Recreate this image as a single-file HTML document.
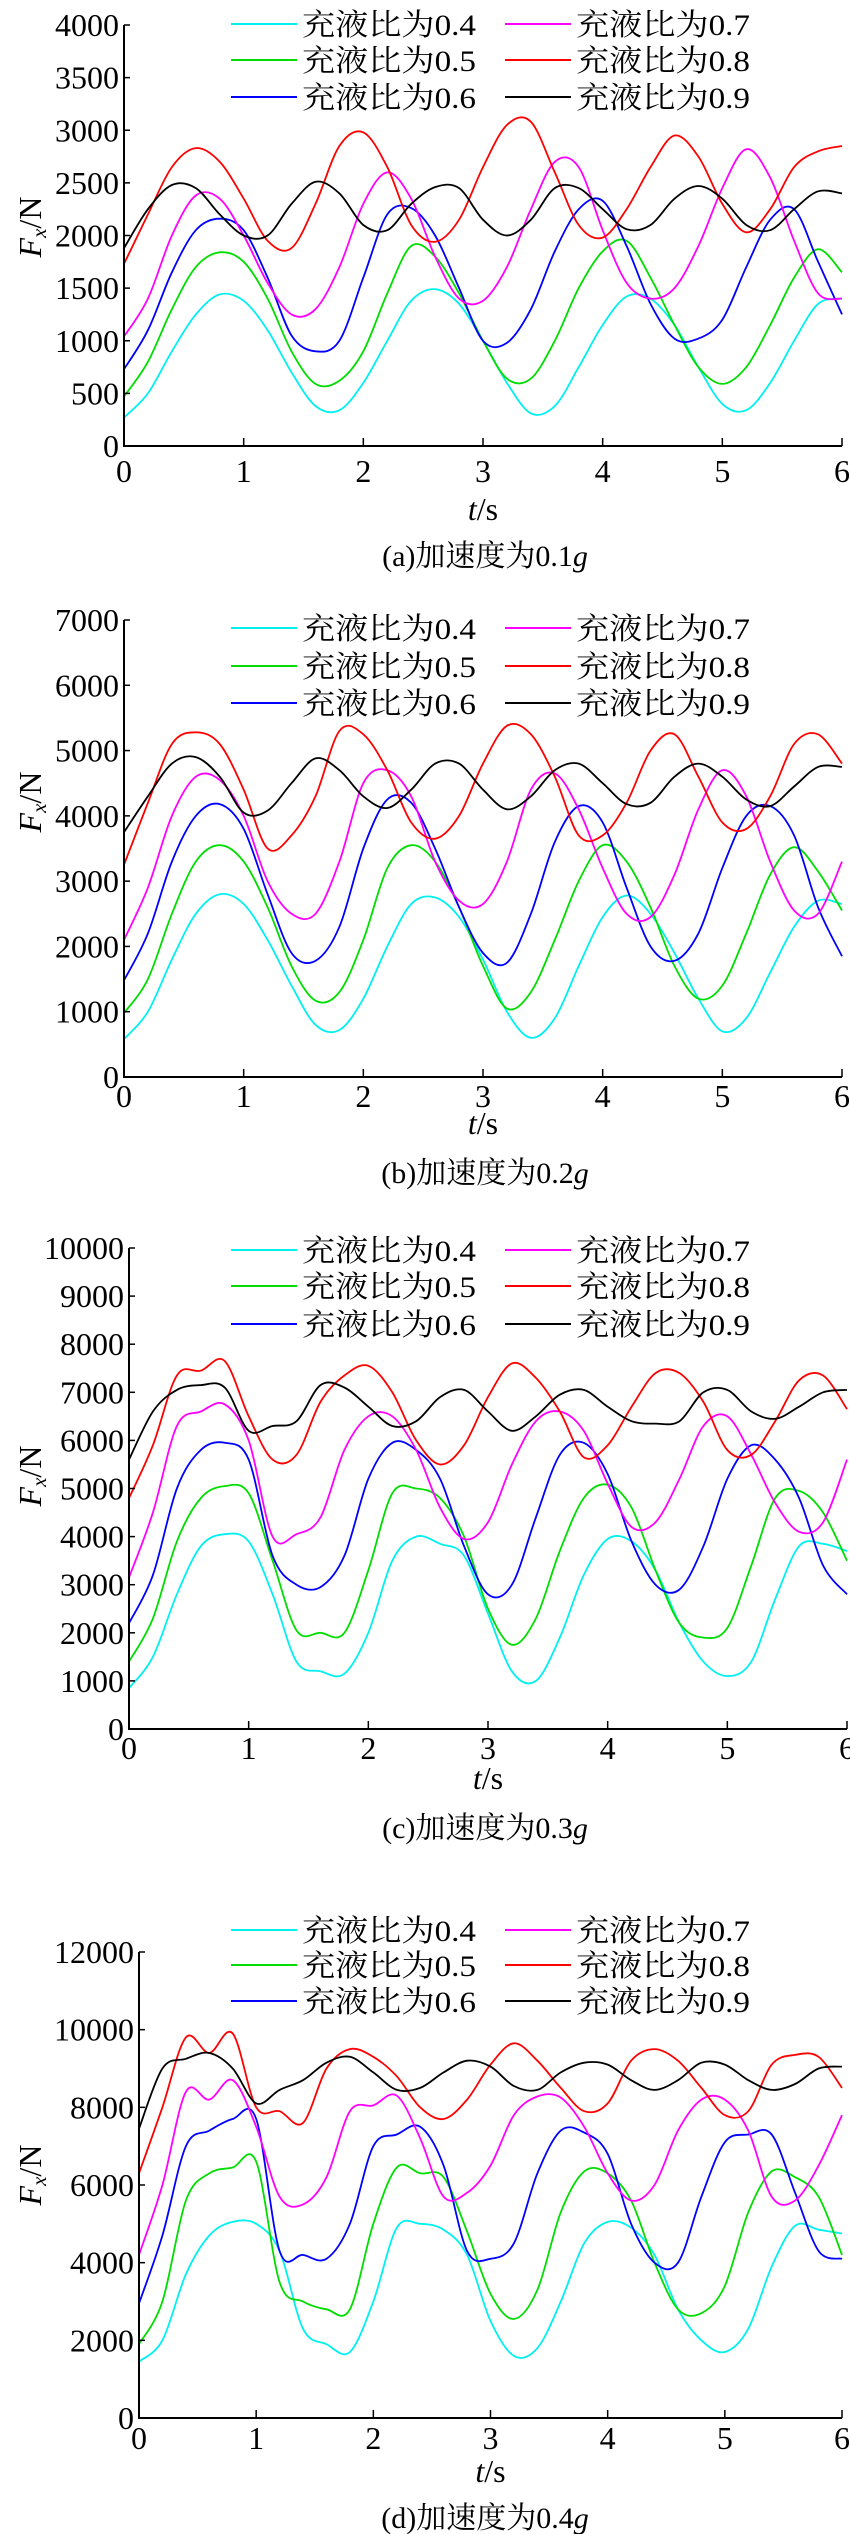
<!DOCTYPE html>
<html><head><meta charset="utf-8">
<style>
html,body{margin:0;padding:0;background:#fff;}
svg{display:block;}
text{font-family:"Liberation Serif","Noto Serif CJK SC","Noto Sans CJK SC",serif;fill:#000;}
</style></head>
<body>
<svg id="fig" width="850" height="2534" viewBox="0 0 850 2534" xmlns="http://www.w3.org/2000/svg"></svg>
<script>
const times = [0,0.2,0.4,0.6,0.8,1.0,1.2,1.4,1.6,1.8,2.0,2.2,2.4,2.6,2.8,3.0,3.2,3.4,3.6,3.8,4.0,4.2,4.4,4.6,4.8,5.0,5.2,5.4,5.6,5.8,6.0];
const seriesLabels = ["充液比为0.4","充液比为0.5","充液比为0.6","充液比为0.7","充液比为0.8","充液比为0.9"];
const xTicks = [0,1,2,3,4,5,6];

// panel (a) 0.1g
const a04 = [270,500,900,1250,1440,1380,1100,700,380,340,600,1000,1380,1490,1350,1000,600,310,380,750,1150,1420,1400,1150,750,400,340,600,1000,1350,1400];
const a05 = [470,800,1300,1700,1840,1750,1400,900,590,620,900,1450,1900,1800,1450,1000,640,640,1000,1500,1850,1950,1600,1150,750,590,750,1150,1600,1870,1650];
const a06 = [730,1100,1650,2050,2160,2050,1600,1050,900,1000,1600,2200,2260,2000,1500,1000,980,1300,1850,2250,2330,1900,1350,1020,1020,1200,1700,2150,2250,1750,1250];
const a07 = [1040,1400,2000,2380,2350,2000,1550,1250,1300,1700,2300,2600,2350,1800,1400,1380,1700,2250,2700,2650,2050,1550,1400,1500,1900,2450,2820,2550,1950,1450,1400];
const a08 = [1730,2200,2650,2830,2700,2350,1950,1880,2300,2850,2980,2650,2100,1940,2150,2650,3050,3080,2600,2100,1980,2250,2650,2950,2750,2300,2030,2250,2650,2800,2850];
const a09 = [1880,2250,2480,2450,2200,2000,2000,2300,2510,2400,2100,2050,2300,2460,2450,2150,2000,2150,2450,2450,2250,2060,2100,2350,2470,2350,2100,2050,2250,2420,2400];
const aYTicks = [0,500,1000,1500,2000,2500,3000,3500,4000];

// panel (b) 0.2g
const b04 = [580,1000,1800,2500,2800,2650,2100,1400,800,720,1200,2000,2650,2750,2450,1800,1000,600,900,1700,2450,2780,2500,1900,1200,700,900,1600,2300,2700,2650];
const b05 = [980,1500,2500,3300,3550,3300,2600,1700,1170,1300,2100,3200,3550,3300,2600,1700,1050,1300,2100,3000,3550,3300,2600,1700,1200,1400,2200,3100,3520,3150,2550];
const b06 = [1480,2200,3300,4000,4180,3800,2800,1900,1780,2300,3500,4250,4200,3500,2600,1900,1750,2500,3600,4150,3900,2900,2000,1780,2200,3200,4000,4150,3700,2600,1850];
const b07 = [2100,2900,4000,4600,4550,4000,3000,2500,2500,3300,4500,4700,4300,3300,2700,2650,3300,4400,4650,4100,3200,2500,2450,3100,4100,4700,4300,3300,2550,2500,3300];
const b08 = [3250,4200,5100,5280,5100,4400,3500,3700,4300,5300,5250,4700,3900,3650,4000,4800,5380,5250,4600,3700,3700,4200,5000,5250,4600,3900,3800,4300,5100,5250,4800];
const b09 = [3750,4300,4800,4900,4600,4050,4080,4500,4880,4700,4300,4120,4400,4800,4800,4400,4100,4300,4700,4800,4500,4180,4200,4600,4800,4600,4250,4150,4450,4750,4750];
const bYTicks = [0,1000,2000,3000,4000,5000,6000,7000];

// panel (c) 0.3g
const c04 = [850,1500,2800,3800,4050,3900,2800,1400,1200,1150,2000,3500,4000,3850,3600,2400,1200,1000,1900,3200,3950,3900,3300,2200,1400,1100,1400,2700,3800,3850,3700];
const c05 = [1400,2300,3900,4800,5050,4900,3500,2050,2000,2000,3300,4900,5000,4800,4000,2500,1750,2300,3700,4800,5080,4600,3300,2200,1900,2100,3400,4800,4950,4500,3500];
const c06 = [2200,3200,5000,5800,5950,5600,3600,3000,2950,3600,5200,5950,5800,5200,3800,2800,3000,4400,5700,5950,5300,3900,3000,2900,3800,5200,5900,5600,4800,3400,2800];
const c07 = [3150,4500,6300,6600,6750,6000,4000,4050,4400,5800,6500,6500,5800,4600,3950,4300,5500,6400,6600,6200,5100,4200,4300,5200,6300,6500,5700,4700,4100,4300,5600];
const c08 = [4800,5900,7350,7450,7650,6500,5600,5700,6800,7350,7550,7000,6000,5500,5900,6900,7600,7300,6600,5650,5900,6700,7400,7400,6800,5800,5700,6400,7250,7350,6650];
const c09 = [5600,6600,7050,7150,7100,6200,6300,6400,7150,7100,6700,6300,6400,6900,7050,6600,6200,6500,6950,7050,6700,6400,6350,6400,7000,7050,6600,6450,6700,7000,7050];
const cYTicks = [0,1000,2000,3000,4000,5000,6000,7000,8000,9000,10000];

// panel (d) 0.4g
const d04 = [1450,2000,3700,4700,5050,5000,4300,2300,1900,1700,3000,4900,5000,4850,4200,2500,1600,1800,3000,4500,5050,4900,4200,2800,2000,1700,2300,3900,4950,4850,4750];
const d05 = [1900,3000,5600,6300,6450,6600,3500,3000,2800,2800,5000,6450,6300,6200,4800,3200,2550,3300,5300,6350,6300,5600,4000,2800,2700,3400,5300,6350,6200,5700,4200];
const d06 = [2950,4700,7000,7400,7700,7700,4300,4200,4100,5000,7000,7300,7500,6500,4300,4100,4500,6300,7400,7350,6800,5000,4000,4000,5700,7100,7300,7300,5800,4300,4100];
const d07 = [4200,6000,8400,8200,8700,7500,5700,5500,6200,7900,8050,8300,7200,5700,5800,6500,7800,8280,8250,7500,6300,5600,6000,7400,8200,8200,7400,5700,5600,6500,7800];
const d08 = [6300,8000,9800,9400,9900,8000,7900,7600,9000,9500,9300,8800,8000,7700,8200,9100,9650,9200,8500,7900,8100,9200,9500,9200,8500,7800,7900,9100,9350,9300,8500];
const d09 = [7450,9000,9250,9400,9000,8100,8450,8700,9150,9300,8900,8450,8500,8900,9200,9050,8550,8450,8900,9150,9100,8700,8450,8700,9150,9100,8700,8450,8600,9000,9050];
const dYTicks = [0,2000,4000,6000,8000,10000,12000];

const colors = ["#00f0f0","#00dd00","#0000ff","#ff00ff","#ff0000","#000000"];
const NS = "http://www.w3.org/2000/svg";
const svg = document.getElementById('fig');

function mk(tag, parent, attrs, txt){
  const e = document.createElementNS(NS, tag);
  for (const k in attrs) e.setAttribute(k, attrs[k]);
  if (txt !== undefined) e.textContent = txt;
  parent.appendChild(e);
  return e;
}

function smoothPath(pts){
  let d = 'M' + pts[0][0].toFixed(1) + ' ' + pts[0][1].toFixed(1);
  for (let i = 0; i < pts.length - 1; i++){
    const p0 = pts[Math.max(0, i - 1)], p1 = pts[i], p2 = pts[i + 1], p3 = pts[Math.min(pts.length - 1, i + 2)];
    const c1x = p1[0] + (p2[0] - p0[0]) / 6, c1y = p1[1] + (p2[1] - p0[1]) / 6;
    const c2x = p2[0] - (p3[0] - p1[0]) / 6, c2y = p2[1] - (p3[1] - p1[1]) / 6;
    d += 'C' + c1x.toFixed(1) + ' ' + c1y.toFixed(1) + ' ' + c2x.toFixed(1) + ' ' + c2y.toFixed(1) + ' ' + p2[0].toFixed(1) + ' ' + p2[1].toFixed(1);
  }
  return d;
}

function panel(cfg){
  const g = mk('g', svg, {});
  
  
  const xs = t => cfg.x0 + (cfg.x6 - cfg.x0) * t / 6;
  const ys = v => cfg.y0 - (cfg.y0 - cfg.yT) * v / cfg.yMax;

  cfg.series.forEach((arr, si) => {
    const pts = arr.map((v, i) => [xs(times[i]), ys(v)]);
    const p = mk('path', g, {d: smoothPath(pts), fill: 'none', stroke: colors[si], 'stroke-width': 1.8, 'stroke-linejoin': 'round'});
    
    
  });
  // initial vertical rise of the blue (0.6) trace at t=0
  const rise = mk('line', g, {x1: xs(0), x2: xs(0), y1: ys(0), y2: ys(cfg.series[2][0]), stroke: colors[2], 'stroke-width': 2});
  
  

  const ax = mk('path', g, {d: `M${cfg.x0} ${cfg.yT}V${cfg.y0}H${cfg.x6}`, fill: 'none', stroke: '#000', 'stroke-width': 2});
  
  

  cfg.yTicks.forEach(v => {
    const y = ys(v);
    mk('line', g, {x1: cfg.x0, x2: cfg.x0 + 6, y1: y, y2: y, stroke: '#000', 'stroke-width': 1.5});
    const t = mk('text', g, {x: cfg.x0 - 5, y: y + 11, 'text-anchor': 'end', 'font-size': 32}, String(v));
    
    
  });
  xTicks.forEach(v => {
    const x = xs(v);
    mk('line', g, {x1: x, x2: x, y1: cfg.y0, y2: cfg.y0 - 8, stroke: '#000', 'stroke-width': 1.5});
    const t = mk('text', g, {x: x, y: cfg.xl + 11, 'text-anchor': 'middle', 'font-size': 32}, String(v));
    
    
  });

  const xt = mk('text', g, {x: (cfg.x0 + cfg.x6) / 2, y: cfg.xt + 11, 'text-anchor': 'middle', 'font-size': 32});
  
  
  mk('tspan', xt, {'font-style': 'italic'}, 't');
  mk('tspan', xt, {}, '/s');

  const yt = mk('text', g, {x: 0, y: 0, 'text-anchor': 'middle', 'font-size': 32, transform: `translate(41 ${cfg.yc}) rotate(-90)`});
  
  
  mk('tspan', yt, {'font-style': 'italic'}, 'F');
  mk('tspan', yt, {'font-style': 'italic', 'font-size': 21, dy: 5}, 'x');
  mk('tspan', yt, {dy: -5}, '/N');

  const lg = mk('g', g, {});
  
  
  seriesLabels.forEach((lab, si) => {
    const col = Math.floor(si / 3), row = si % 3;
    const y = cfg.leg[row];
    const lx = col ? 505 : 231;
    const e = mk('g', lg, {});
    
    
    mk('line', e, {x1: lx, x2: lx + 66, y1: y, y2: y, stroke: colors[si], 'stroke-width': 2});
    mk('text', e, {x: lx + 71, y: y + 11, 'font-size': 30, textLength: 174, lengthAdjust: 'spacingAndGlyphs'}, lab);
  });

  const cap = mk('text', g, {x: 485, y: cfg.cap + 11, 'text-anchor': 'middle', 'font-size': 30});
  
  
  mk('tspan', cap, {}, cfg.capText);
  mk('tspan', cap, {'font-style': 'italic'}, 'g');
}

panel({id:'a', x0:124, x6:842, y0:446, yT:25, yMax:4000, yTicks:aYTicks, series:[a04,a05,a06,a07,a08,a09],
  xl:471, xt:509, cap:555, yc:227, leg:[24,60,97], capText:'(a)加速度为0.1'});
panel({id:'b', x0:124, x6:842, y0:1077, yT:620, yMax:7000, yTicks:bYTicks, series:[b04,b05,b06,b07,b08,b09],
  xl:1096, xt:1123, cap:1172, yc:802, leg:[628,666,703], capText:'(b)加速度为0.2'});
panel({id:'c', x0:129, x6:847, y0:1729, yT:1248, yMax:10000, yTicks:cYTicks, series:[c04,c05,c06,c07,c08,c09],
  xl:1748, xt:1778, cap:1827, yc:1476, leg:[1250,1286,1324], capText:'(c)加速度为0.3'});
panel({id:'d', x0:139, x6:842, y0:2418, yT:1952, yMax:12000, yTicks:dYTicks, series:[d04,d05,d06,d07,d08,d09],
  xl:2438, xt:2471, cap:2517, yc:2175, leg:[1930,1965,2001], capText:'(d)加速度为0.4'});
</script>
</body></html>
